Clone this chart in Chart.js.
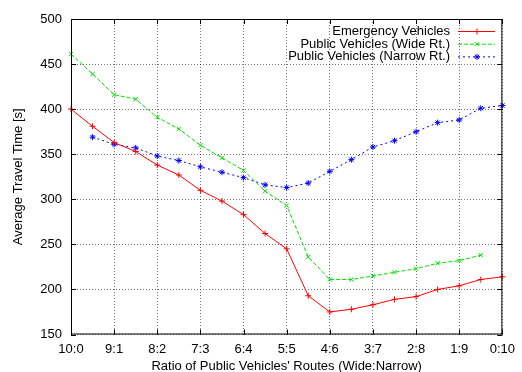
<!DOCTYPE html>
<html>
<head>
<meta charset="utf-8">
<script src="https://cdn.jsdelivr.net/npm/chart.js@4.4.0/dist/chart.umd.min.js"></script>
<style>
  html, body { margin: 0; padding: 0; background: #fff; }
  #wrap { width: 522px; height: 372px; }
</style>
</head>
<body>
<div id="wrap"><canvas id="myChart" width="522" height="372"></canvas></div>
<script>
// samples every half step between the ratio ticks
const categories = ["10:0", "", "9:1", "", "8:2", "", "7:3", "", "6:4", "", "5:5", "", "4:6", "", "3:7", "", "2:8", "", "1:9", "", "0:10"];

const emergency = [400, 381, 363, 353, 338, 327, 310, 298, 283, 262, 245, 193, 175, 178, 183, 189, 192, 200, 204, 211, 214];
const wideRoute = [461, 439, 416, 411, 391, 378, 360, 346, 332, 309, 293, 236, 211, 211, 215, 219, 223, 229, 232, 238, null];
const narrowRoute = [null, 369, 361, 357, 348, 343, 336, 330, 324, 316, 313, 318, 331, 344, 358, 365, 375, 385, 388, 401, 404];

const yTicks = [150, 200, 250, 300, 350, 400, 450, 500];

const FONT = "'Liberation Sans', Arial, sans-serif";

const seriesStyle = [
  { label: "Emergency Vehicles", color: "#ff0000", dash: [], point: "cross" },
  { label: "Public Vehicles (Wide Rt.)", color: "#00e000", dash: [4, 2], point: "crossRot" },
  { label: "Public Vehicles (Narrow Rt.)", color: "#0000ff", dash: [2, 3], point: "star" },
];

// gnuplot-like frame, inward ticks and legend
const framePlugin = {
  id: "frame",
  afterDraw(chart) {
    const { ctx, chartArea: a, scales } = chart;
    ctx.save();
    ctx.strokeStyle = "#000";
    ctx.lineWidth = 1;
    ctx.setLineDash([]);
    ctx.strokeRect(a.left + 0.5, a.top + 0.5, a.right - a.left - 1, a.bottom - a.top - 1);
    ctx.beginPath();
    yTicks.forEach(v => {
      const y = Math.round(scales.y.getPixelForValue(v)) + 0.5;
      ctx.moveTo(a.left, y); ctx.lineTo(a.left + 5, y);
      ctx.moveTo(a.right, y); ctx.lineTo(a.right - 5, y);
    });
    categories.forEach((c, i) => {
      if (!c) return;
      const x = Math.round(scales.x.getPixelForValue(i)) + 0.5;
      ctx.moveTo(x, a.top); ctx.lineTo(x, a.top + 5);
      ctx.moveTo(x, a.bottom); ctx.lineTo(x, a.bottom - 5);
    });
    ctx.stroke();

    // legend
    ctx.font = "13px " + FONT;
    ctx.textAlign = "right";
    ctx.textBaseline = "middle";
    seriesStyle.forEach((s, i) => {
      const y = 31.5 + i * 12.7;
      ctx.fillStyle = "#000";
      ctx.fillText(s.label, 450, y);
      ctx.strokeStyle = s.color;
      ctx.setLineDash(s.dash);
      ctx.beginPath();
      ctx.moveTo(458, y); ctx.lineTo(495, y);
      ctx.stroke();
      ctx.setLineDash([]);
      Chart.helpers.drawPoint(ctx, { pointStyle: s.point, radius: 3, borderWidth: 1 }, 477, y);
    });
    ctx.restore();
  }
};

const ctx = document.getElementById("myChart").getContext("2d");

const myChart = new Chart(ctx, {
  type: "line",
  data: {
    labels: categories,
    datasets: [emergency, wideRoute, narrowRoute].map((d, i) => ({
      label: seriesStyle[i].label,
      data: d,
      borderColor: seriesStyle[i].color,
      backgroundColor: seriesStyle[i].color,
      borderWidth: 1,
      borderDash: seriesStyle[i].dash,
      pointStyle: seriesStyle[i].point,
      pointRadius: 3,
      pointBorderWidth: 1,
      tension: 0,
      spanGaps: false,
    })),
  },
  options: {
    responsive: false,
    animation: false,
    layout: { padding: { top: 19, right: 11, left: 0, bottom: 0 } },
    plugins: { legend: { display: false }, tooltip: { enabled: false } },
    scales: {
      x: {
        type: "category",
        offset: false,
        afterFit(scale) { scale.height = 37.5; },
        grid: {
          drawTicks: false,
          color: c => (categories[c.index] ? "rgba(0,0,0,0.55)" : "rgba(0,0,0,0)"),
        },
        border: { display: false, dash: [1, 2] },
        ticks: {
          autoSkip: false,
          maxRotation: 0,
          padding: 7,
          color: "#000",
          font: { family: FONT, size: 13 },
          callback: (v, i) => categories[i],
        },
        title: {
          display: true,
          text: "Ratio of Public Vehicles' Routes (Wide:Narrow)",
          color: "#000",
          font: { family: FONT, size: 13 },
          padding: { top: 0, bottom: -2 },
        },
      },
      y: {
        min: 150,
        max: 500,
        afterFit(scale) { scale.width = 71; },
        afterBuildTicks(scale) { scale.ticks = yTicks.map(v => ({ value: v })); },
        grid: { drawTicks: false, color: "rgba(0,0,0,0.55)" },
        border: { display: false, dash: [1, 2] },
        ticks: {
          padding: 9,
          color: "#000",
          font: { family: FONT, size: 13 },
        },
        title: {
          display: true,
          text: "Average Travel Time [s]",
          color: "#000",
          font: { family: FONT, size: 13 },
          padding: { top: 11, bottom: 0 },
        },
      },
    },
  },
  plugins: [framePlugin],
});
</script>
</body>
</html>
